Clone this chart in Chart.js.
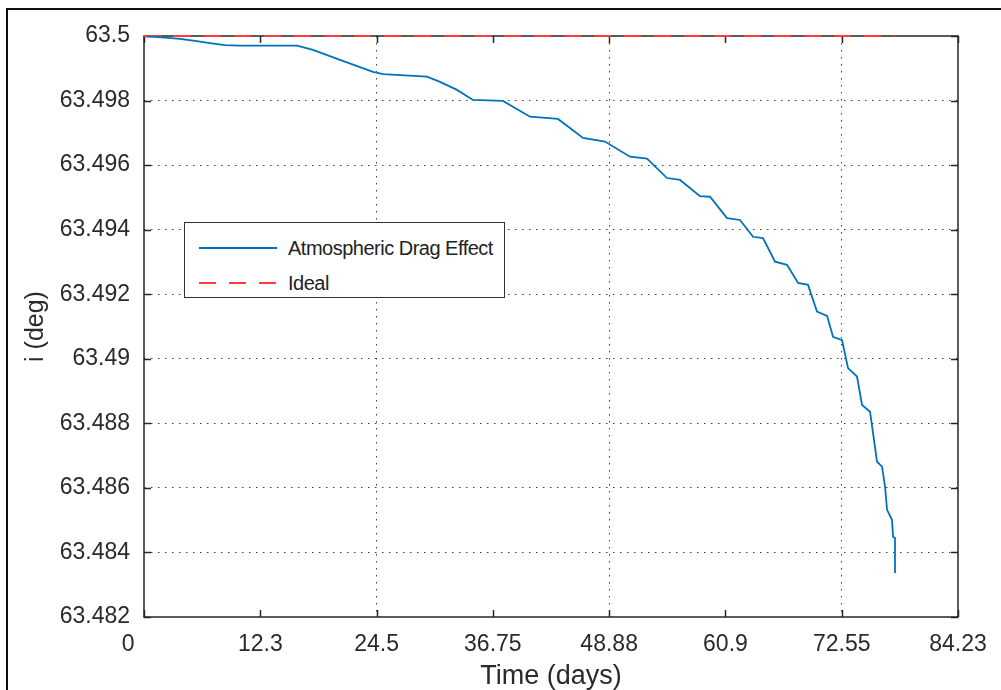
<!DOCTYPE html>
<html>
<head>
<meta charset="utf-8">
<script src="https://cdn.jsdelivr.net/npm/chart.js@4"></script>
<style>
  body { margin: 0; background: #fff; }
  #wrap { position: relative; width: 1001px; height: 690px; overflow: hidden; }
  #frame { position: absolute; left: 6px; top: 8px; width: 1100px; height: 800px;
           border-left: 2px solid #111; border-top: 2px solid #111; }
  #chart { position: absolute; left: 0; top: 0; }
  #legend { position: absolute; left: 184px; top: 222px; width: 321px; height: 76px;
            border: 1.5px solid #333; background: #fff; box-sizing: border-box;
            font-family: "Liberation Sans", Arial, sans-serif; font-size: 20px;
            letter-spacing: -0.5px; color: #222; }
  .row { position: absolute; left: 0; height: 24px; }
  .row svg { position: absolute; left: 14px; top: 0; }
  .row span { position: absolute; left: 103px; top: 0; line-height: 24px; white-space: nowrap; }
</style>
</head>
<body>
<div id="wrap">
  <div id="frame"></div>
  <canvas id="chart" width="1001" height="690"></canvas>
  <div id="legend">
    <div class="row" style="top:13px">
      <svg width="80" height="24"><line x1="0" y1="12" x2="78" y2="12" stroke="#0072BD" stroke-width="1.8"/></svg>
      <span>Atmospheric Drag Effect</span>
    </div>
    <div class="row" style="top:48px">
      <svg width="80" height="24"><line x1="0" y1="12" x2="78" y2="12" stroke="#ff3b3b" stroke-width="2" stroke-dasharray="17 13"/></svg>
      <span>Ideal</span>
    </div>
  </div>
</div>
<script>
// time axis labels (uniformly spaced on the plot)
const xTickLabels = ['0', '12.3', '24.5', '36.75', '48.88', '60.9', '72.55', '84.23'];
const xMax = 84.23;
const yTickValues = [63.482, 63.484, 63.486, 63.488, 63.49, 63.492, 63.494, 63.496, 63.498, 63.5];
const yTickLabels = ['63.482', '63.484', '63.486', '63.488', '63.49', '63.492', '63.494', '63.496', '63.498', '63.5'];

// Atmospheric drag effect: inclination (deg) vs time (days)
const dragTime = [0.31, 2.17, 3.73, 5.28, 6.83, 8.38, 9.93, 15.83, 17.49, 20.28, 23.70, 24.73, 29.28,
  30.63, 32.39, 34.04, 37.15, 39.94, 42.84, 45.43, 47.70, 50.29, 52.05, 54.12, 55.47, 57.53, 58.57,
  60.33, 61.67, 63.02, 64.05, 65.30, 66.54, 67.68, 68.71, 69.64, 70.68, 71.30, 72.23, 72.85, 73.78,
  74.30, 75.13, 75.85, 76.37, 76.68, 76.89, 77.40, 77.51, 77.71, 77.71];
const dragIncl = [63.49999, 63.49995, 63.49991, 63.49985, 63.49978, 63.49972, 63.4997, 63.4997,
  63.49957, 63.49926, 63.49889, 63.49882, 63.49874, 63.49858, 63.49833, 63.49802, 63.49799, 63.4975,
  63.49743, 63.49684, 63.49673, 63.49626, 63.4962, 63.4956, 63.49554, 63.49504, 63.49502, 63.49436,
  63.4943, 63.49378, 63.49374, 63.49301, 63.49291, 63.49235, 63.49229, 63.49146, 63.49133, 63.49068,
  63.49058, 63.48971, 63.48945, 63.48857, 63.48836, 63.48681, 63.48666, 63.48604, 63.48532, 63.48501,
  63.48449, 63.48445, 63.48336];

// Ideal (no drag)
const idealTime = [0, 77.71];
const idealIncl = [63.5, 63.5];

const gridColor = 'rgba(30,30,30,0.85)';
const textColor = '#2a2a2a';
const fontFamily = '"Liberation Sans", Arial, sans-serif';

// MATLAB style box with inward ticks
const boxTicks = {
  id: 'boxTicks',
  beforeDatasetsDraw(chart) {
    const { ctx, chartArea: a, scales: { x, y } } = chart;
    ctx.save();
    ctx.strokeStyle = '#262626';
    ctx.lineWidth = 1.5;
    ctx.strokeRect(a.left, a.top, a.right - a.left, a.bottom - a.top);
    ctx.beginPath();
    x.ticks.forEach(t => {
      const px = Math.round(x.getPixelForValue(t.value)) + 0.5;
      ctx.moveTo(px, a.bottom); ctx.lineTo(px, a.bottom - 7);
      ctx.moveTo(px, a.top); ctx.lineTo(px, a.top + 7);
    });
    y.ticks.forEach(t => {
      const py = Math.round(y.getPixelForValue(t.value)) + 0.5;
      ctx.moveTo(a.left, py); ctx.lineTo(a.left + 7, py);
      ctx.moveTo(a.right, py); ctx.lineTo(a.right - 7, py);
    });
    ctx.stroke();
    ctx.restore();
  }
};

new Chart(document.getElementById('chart').getContext('2d'), {
  type: 'line',
  data: {
    datasets: [
      {
        label: 'Atmospheric Drag Effect',
        data: dragTime.map((t, i) => ({ x: t, y: dragIncl[i] })),
        borderColor: '#0072BD',
        borderWidth: 1.8,
        pointRadius: 0,
        tension: 0,
        clip: false,
      },
      {
        label: 'Ideal',
        data: idealTime.map((t, i) => ({ x: t, y: idealIncl[i] })),
        borderColor: '#ff3b3b',
        borderWidth: 2.2,
        borderDash: [17, 13],
        pointRadius: 0,
        clip: false,
      },
    ],
  },
  options: {
    responsive: false,
    animation: false,
    layout: { padding: { left: 0, top: 36, right: 43, bottom: 0 } },
    plugins: { legend: { display: false }, tooltip: { enabled: false } },
    scales: {
      x: {
        type: 'linear',
        min: 0,
        max: xMax,
        afterBuildTicks: (scale) => {
          scale.ticks = xTickLabels.map((l, i) => ({ value: i * xMax / (xTickLabels.length - 1) }));
        },
        afterFit: (scale) => { scale.height = 73; },
        ticks: {
          autoSkip: false,
          maxRotation: 0,
          padding: 14,
          color: textColor,
          font: { family: fontFamily, size: 23 },
          // first label sits left of the axis corner, as in the original
          callback: (v, i) => (i === 0 ? xTickLabels[i] + '     ' : xTickLabels[i]),
        },
        grid: {
          drawTicks: false,
          lineWidth: 1,
          color: (c) => (c.index % 2 === 0 && c.index > 0 && c.index < xTickLabels.length - 1) ? gridColor : 'rgba(0,0,0,0)',
        },
        border: { display: false, dash: [1.5, 5.5] },
        title: {
          display: true,
          text: 'Time (days)',
          color: textColor,
          font: { family: fontFamily, size: 27 },
          padding: { top: 0, bottom: -3 },
        },
      },
      y: {
        type: 'linear',
        min: 63.482,
        max: 63.5,
        afterBuildTicks: (scale) => {
          scale.ticks = yTickValues.map(v => ({ value: v }));
        },
        afterFit: (scale) => { scale.width = 144; },
        ticks: {
          autoSkip: false,
          padding: 14,
          color: textColor,
          font: { family: fontFamily, size: 23 },
          callback: (v, i) => yTickLabels[i],
        },
        grid: {
          drawTicks: false,
          lineWidth: 1,
          color: (c) => (c.index > 0 && c.index < yTickValues.length - 1) ? gridColor : 'rgba(0,0,0,0)',
        },
        border: { display: false, dash: [1.5, 5.5] },
        title: {
          display: true,
          text: 'i (deg)',
          color: textColor,
          font: { family: fontFamily, size: 25 },
          padding: { top: 21, bottom: 0 },
        },
      },
    },
  },
  plugins: [boxTicks],
});
</script>
</body>
</html>
